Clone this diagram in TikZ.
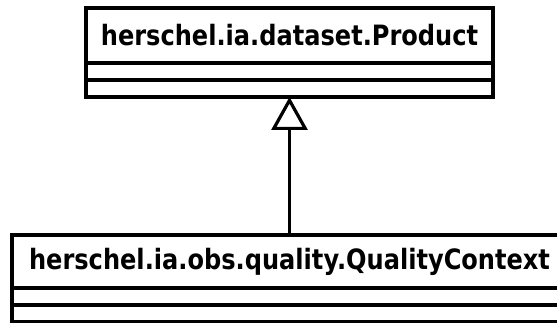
\documentclass[tikz,border=0pt]{standalone}
\usepackage{fontspec}
\setmainfont{DejaVu Sans}
\newfontfamily\classfont[FakeStretch=0.86]{DejaVu Sans}
\usetikzlibrary{arrows.meta, positioning}
\tikzset{
  classname/.style={draw, line width=3.2pt, inner sep=0pt, outer sep=0pt,
      font=\classfont\bfseries\fontsize{28}{32}\selectfont},
  compartment/.style={draw, line width=3.2pt, inner sep=0pt, outer sep=0pt, minimum height=17pt},
  inherit/.style={line width=3.2pt, -{Triangle[open, length=33pt, width=36pt, line width=3.2pt]}},
}

\begin{document}
\begin{tikzpicture}[x=1pt, y=-1pt]
  \clip (0,0) rectangle (557,323);
  % super class
  \node[classname, minimum width=407pt, minimum height=55pt] (product) at (289.5,35.5)
      {herschel.ia.dataset.Product};
  \node[compartment, minimum width=407pt, below=0pt of product] (productattr) {};
  \node[compartment, minimum width=407pt, below=0pt of productattr] (productops) {};
  % sub class
  \node[classname, minimum width=555pt, minimum height=53pt] (context) at (289.5,261.5)
      {herschel.ia.obs.quality.QualityContext};
  \node[compartment, minimum width=555pt, below=0pt of context] (contextattr) {};
  \node[compartment, minimum width=555pt, below=0pt of contextattr] (contextops) {};
  % generalization
  \draw[inherit] (context) -- (productops);
\end{tikzpicture}
\end{document}
